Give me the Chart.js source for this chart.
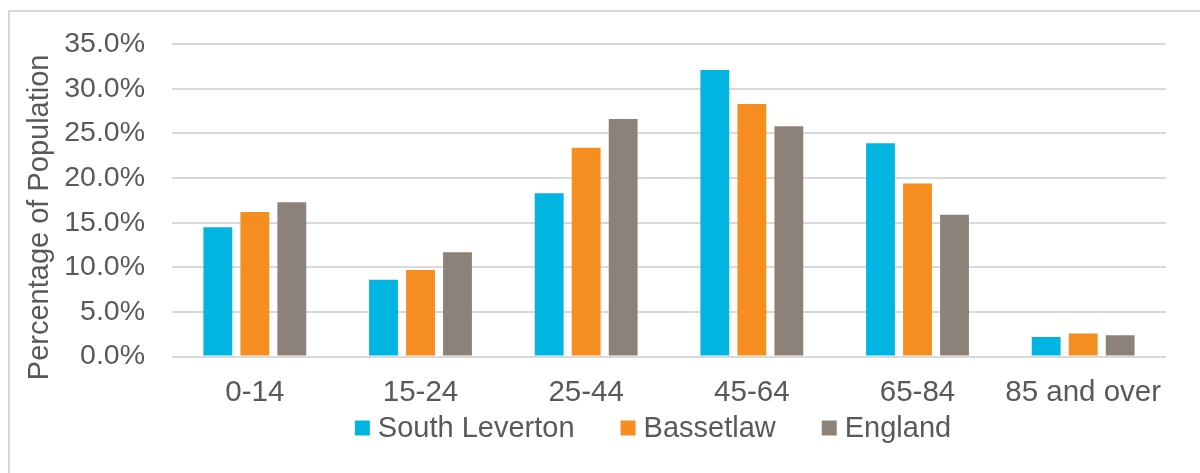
<!DOCTYPE html>
<html>
<head>
<meta charset="utf-8">
<script src="https://cdn.jsdelivr.net/npm/chart.js@4/dist/chart.umd.min.js"></script>
<style>
  html, body { margin: 0; padding: 0; background: #fff; }
  #wrap { position: relative; width: 1200px; height: 473px; overflow: hidden; }
  #frame { position: absolute; left: 8px; top: 10px; width: 1200px; height: 480px;
           border-top: 2px solid #d9d9d9; border-left: 2px solid #d9d9d9; box-sizing: border-box; }
  #chart { position: absolute; left: 0; top: 0; }
</style>
</head>
<body>
<div id="wrap">
  <div id="frame"></div>
  <canvas id="chart" width="1200" height="473"></canvas>
</div>
<script>
// ─── Data ─────────────────────────────────────
const ageBands = ['0-14', '15-24', '25-44', '45-64', '65-84', '85 and over'];
const southLeverton = [14.5, 8.6, 18.3, 32.1, 23.9, 2.2];
const bassetlaw     = [16.2, 9.7, 23.4, 28.3, 19.4, 2.6];
const england       = [17.3, 11.7, 26.6, 25.8, 15.9, 2.4];
const yTicks = [0, 5, 10, 15, 20, 25, 30, 35];
const yTitle = 'Percentage of Population';

const textColor = '#595959';
const family = '"Liberation Sans", Arial, sans-serif';

const bar = (label, data, color) => ({
  label, data, backgroundColor: color, borderWidth: 0,
  categoryPercentage: 0.67, barPercentage: 0.78,
});

// ─── Excel-style legend + axis title (drawn by hand for spacing) ──
const excelBits = {
  id: 'excelBits',
  afterDraw(chart) {
    const { ctx, chartArea } = chart;
    ctx.save();
    ctx.fillStyle = textColor;
    ctx.font = `29px ${family}`;
    ctx.textBaseline = 'middle';

    // y-axis title, rotated
    ctx.save();
    ctx.translate(40, (chartArea.top + chartArea.bottom) / 2 + 17);
    ctx.rotate(-Math.PI / 2);
    ctx.textAlign = 'center';
    ctx.fillText(yTitle, 0, 0);
    ctx.restore();

    // legend row
    const box = 15, gap = 8, itemGap = 46, y = 428;
    const items = chart.data.datasets.map(ds => ({
      text: ds.label, color: ds.backgroundColor, w: ctx.measureText(ds.label).width,
    }));
    const total = items.reduce((s, it) => s + box + gap + it.w, 0) + itemGap * (items.length - 1);
    let x = (chartArea.left + chartArea.right) / 2 - 16 - total / 2;
    ctx.textAlign = 'left';
    items.forEach(it => {
      ctx.fillStyle = it.color;
      ctx.fillRect(x, y - box / 2, box, box);
      ctx.fillStyle = textColor;
      ctx.fillText(it.text, x + box + gap, y + 1);
      x += box + gap + it.w + itemGap;
    });
    ctx.restore();
  },
};

new Chart(document.getElementById('chart'), {
  type: 'bar',
  data: {
    labels: ageBands,
    datasets: [
      bar('South Leverton', southLeverton, '#00B5E2'),
      bar('Bassetlaw', bassetlaw, '#F58D21'),
      bar('England', england, '#8C8279'),
    ],
  },
  plugins: [excelBits],
  options: {
    responsive: false,
    animation: false,
    layout: { padding: { top: 34, right: 34, bottom: 51, left: 0 } },
    plugins: {
      tooltip: { enabled: false },
      legend: { display: false },
    },
    scales: {
      x: {
        grid: { display: false },
        border: { display: false },
        ticks: { color: textColor, font: { family, size: 29.5 }, padding: 11 },
      },
      y: {
        min: 0, max: 35,
        afterBuildTicks: s => { s.ticks = yTicks.map(v => ({ value: v })); },
        afterFit: s => { s.width = 172; },
        grid: { color: '#d9d9d9', lineWidth: 2, drawTicks: false },
        border: { display: false },
        ticks: { color: textColor, font: { family, size: 28.5 }, padding: 27, callback: v => v.toFixed(1) + '%' },
      },
    },
  },
});
</script>
</body>
</html>
